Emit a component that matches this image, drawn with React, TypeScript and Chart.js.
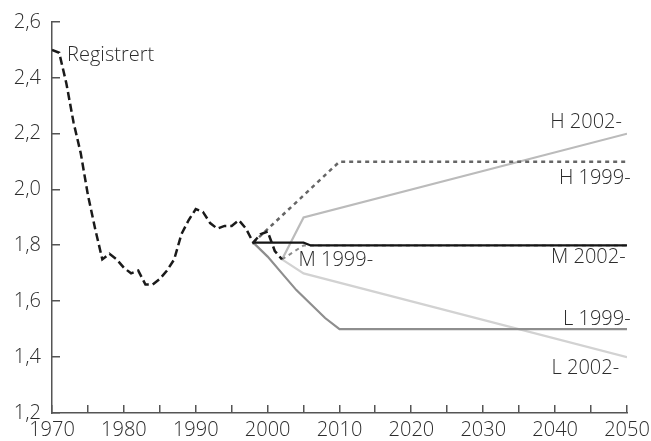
import React, { useEffect, useRef } from "react";
import { Chart, registerables } from "chart.js";

Chart.register(...registerables);

// Registered total fertility rate
const histYears = [1970, 1971, 1972, 1973, 1974, 1975, 1976, 1977, 1978, 1979, 1980, 1981, 1982, 1983, 1984, 1985, 1986, 1987, 1988, 1989, 1990, 1991, 1992, 1993, 1994, 1995, 1996, 1997, 1998, 1999, 2000, 2001, 2002];
const histValues = [2.5, 2.49, 2.38, 2.24, 2.13, 1.98, 1.86, 1.75, 1.77, 1.75, 1.72, 1.7, 1.71, 1.66, 1.66, 1.68, 1.71, 1.75, 1.84, 1.89, 1.93, 1.92, 1.88, 1.86, 1.87, 1.87, 1.89, 1.86, 1.81, 1.84, 1.85, 1.78, 1.75];

// Projections
const mBlackYears = [1998, 2005, 2006, 2050];
const mBlackValues = [1.81, 1.81, 1.8, 1.8];
const mDashYears = [2002, 2005, 2050];
const mDashValues = [1.75, 1.8, 1.8];
const h1999Years = [1998, 2010, 2050];
const h1999Values = [1.81, 2.1, 2.1];
const h2002Years = [2002, 2005, 2050];
const h2002Values = [1.75, 1.9, 2.2];
const l2002Years = [2002, 2005, 2050];
const l2002Values = [1.75, 1.7, 1.4];
const l1999Years = [1998, 2000, 2002, 2004, 2006, 2008, 2010, 2050];
const l1999Values = [1.81, 1.76, 1.7, 1.64, 1.59, 1.54, 1.5, 1.5];

// Axis ticks
const yTicks = [1.2, 1.4, 1.6, 1.8, 2.0, 2.2, 2.4, 2.6];
const xMinorYears = [1970, 1975, 1980, 1985, 1990, 1995, 2000, 2005, 2010, 2015, 2020, 2025, 2030, 2035, 2040, 2045, 2050];
const xLabelYears = [1970, 1980, 1990, 2000, 2010, 2020, 2030, 2040, 2050];

// Line labels
const labelTexts = ["Registrert", "H 2002-", "H 1999-", "M 2002-", "M 1999-", "L 1999-", "L 2002-"];
const labelYears = [1972.1, 2049.3, 2050.5, 2049.8, 2004.3, 2050.5, 2048.9];
const labelValues = [2.48, 2.24, 2.04, 1.757, 1.745, 1.535, 1.36];
const labelAligns: CanvasTextAlign[] = ["left", "right", "right", "right", "left", "right", "right"];

const pts = (xs: number[], ys: number[]) => xs.map((x, i) => ({ x, y: ys[i] }));

const FONT = "'Open Sans', 'Noto Sans', sans-serif";
const FSIZE = 20;
const FWEIGHT = 300;
const TEXT = "#2c2c2c";
const AXIS = "#555555";

export default function App() {
  const ref = useRef<HTMLCanvasElement>(null);
  useEffect(() => {
    document.body.style.margin = "0";
    const canvas = ref.current!;
    const innerTicks = {
      id: "innerTicks",
      afterDraw(chart: any) {
        const ctx = chart.ctx as CanvasRenderingContext2D;
        const xs = chart.scales.x;
        const ys = chart.scales.y;
        const bottom = Math.round(ys.getPixelForValue(1.2));
        const left = Math.round(xs.getPixelForValue(1970));
        ctx.save();
        ctx.fillStyle = AXIS;
        for (const yr of xMinorYears) {
          const px = Math.round(xs.getPixelForValue(yr));
          ctx.fillRect(px - 1, bottom - 8, 1.5, 8);
        }
        for (const v of yTicks) {
          const py = Math.round(ys.getPixelForValue(v));
          ctx.fillRect(left, py - 1, 8, 1.5);
        }
        ctx.fillStyle = TEXT;
        ctx.font = `${FWEIGHT} ${FSIZE}px ${FONT}`;
        ctx.textBaseline = "middle";
        labelTexts.forEach((t, i) => {
          ctx.textAlign = labelAligns[i];
          ctx.fillText(t, xs.getPixelForValue(labelYears[i]), ys.getPixelForValue(labelValues[i]));
        });
        ctx.restore();
      },
    };
    const chart = new Chart(canvas, {
      type: "line",
      data: {
        datasets: [
          { data: pts(histYears, histValues), borderColor: "#1a1a1a", borderWidth: 2.5, borderDash: [8, 4], pointRadius: 0, tension: 0 },
          { data: pts(mBlackYears, mBlackValues), borderColor: "#151515", borderWidth: 2.2, pointRadius: 0 },
          { data: pts(mDashYears, mDashValues), borderColor: "#8a8a8a", borderWidth: 2, borderDash: [4, 4], pointRadius: 0 },
          { data: pts(h1999Years, h1999Values), borderColor: "#666666", borderWidth: 2.5, borderDash: [4, 4], pointRadius: 0 },
          { data: pts(l1999Years, l1999Values), borderColor: "#8e8e8e", borderWidth: 2.2, pointRadius: 0 },
          { data: pts(h2002Years, h2002Values), borderColor: "#bbbbbb", borderWidth: 2.2, pointRadius: 0 },
          { data: pts(l2002Years, l2002Values), borderColor: "#d2d2d2", borderWidth: 2.2, pointRadius: 0 },
        ],
      },
      options: {
        animation: false,
        responsive: false,
        layout: { padding: { top: 22, right: 24, left: 0, bottom: 0 } },
        plugins: { legend: { display: false }, tooltip: { enabled: false } },
        scales: {
          x: {
            type: "linear",
            min: 1970,
            max: 2050,
            afterBuildTicks: (s: any) => {
              s.ticks = xLabelYears.map((v) => ({ value: v }));
            },
            afterFit: (s: any) => {
              s.height = 28;
              s.paddingLeft = 0;
              s.paddingRight = 0;
            },
            ticks: {
              autoSkip: false,
              maxRotation: 0,
              padding: 5,
              color: TEXT,
              font: { family: FONT, size: FSIZE, weight: FWEIGHT },
              callback: (v: any) => String(v),
            },
            grid: { display: false, drawTicks: false },
            border: { display: true, color: AXIS, width: 1.5 },
          },
          y: {
            min: 1.2,
            max: 2.6,
            afterBuildTicks: (s: any) => {
              s.ticks = yTicks.map((v) => ({ value: v }));
            },
            afterFit: (s: any) => {
              s.width = 52;
              s.paddingTop = 0;
              s.paddingBottom = 0;
            },
            ticks: {
              padding: 11,
              color: TEXT,
              font: { family: FONT, size: FSIZE, weight: FWEIGHT },
              callback: (v: any) => Number(v).toFixed(1).replace(".", ","),
            },
            grid: { display: false, drawTicks: false },
            border: { display: true, color: AXIS, width: 1.5 },
          },
        },
      },
      plugins: [innerTicks],
    } as any);
    return () => chart.destroy();
  }, []);
  return (
    <div style={{ width: 651, height: 441 }}>
      <canvas ref={ref} width={651} height={441} />
    </div>
  );
}
